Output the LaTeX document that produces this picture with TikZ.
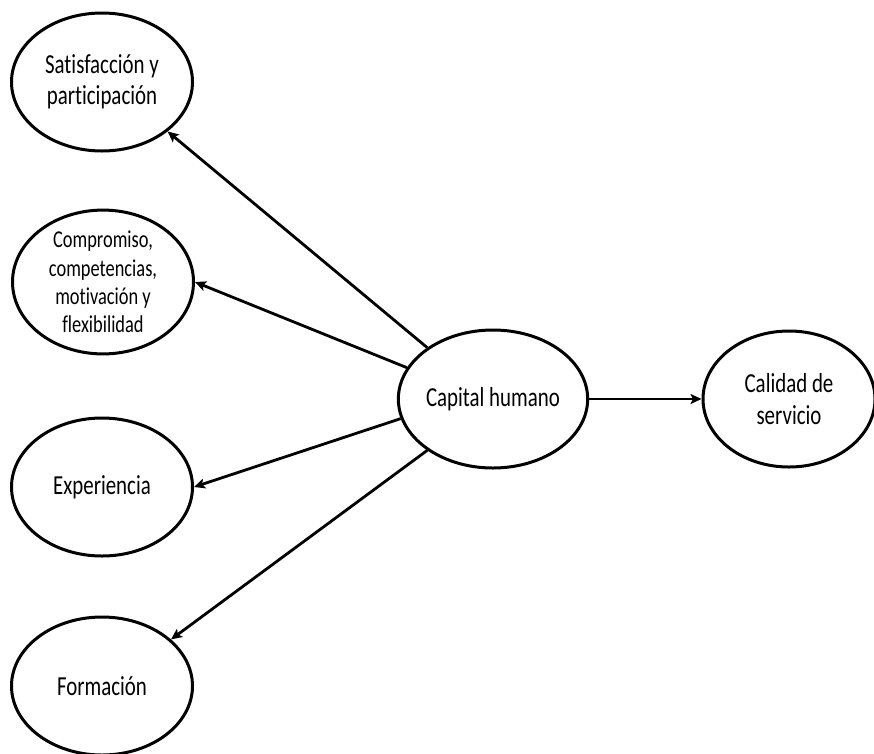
\documentclass[tikz,border=0pt]{standalone}
\usepackage{fontspec}
\setmainfont{Carlito}[FakeStretch=0.76,Ligatures=NoCommon,Contextuals=NoAlternate]
\usetikzlibrary{shapes.geometric,arrows.meta}
\begin{document}
\begin{tikzpicture}[x=1pt,y=-1pt,
  ov/.style={draw, ellipse, line width=3pt, inner sep=0pt,
    minimum width=181pt, minimum height=138pt, align=center,
    font=\fontsize{27.5}{31.5}\selectfont},
  ar/.style={line width=2.8pt, -{Stealth[length=11pt,width=10pt,inset=2.5pt]}}]
\useasboundingbox (0,0) rectangle (874,753);
\node[ov] (sat) at (102,82) {Satisfacción y\\participación};
\node[ov, minimum height=140pt, font=\fontsize{24.2}{28.3}\selectfont] (comp) at (103,282)
  {Compromiso,\\competencias,\\motivación y\\flexibilidad};
\node[ov] (exp) at (102,487) {Experiencia};
\node[ov] (form) at (102,686) {Formación};
\node[ov] (cap) at (493,399) {Capital humano};
\node[ov, minimum width=172pt, minimum height=136pt] (cal) at (789,399) {Calidad de\\servicio};
\draw[ar] (cap.142.6) -- (sat.-37.7);
\draw[ar] (cap.160.5) -- (comp.east);
\draw[ar] (cap.192.2) -- (exp.east);
\draw[ar] (cap.218) -- (form.34.9);
\draw[ar] (cap.east) -- (cal.west);
\end{tikzpicture}
\end{document}
